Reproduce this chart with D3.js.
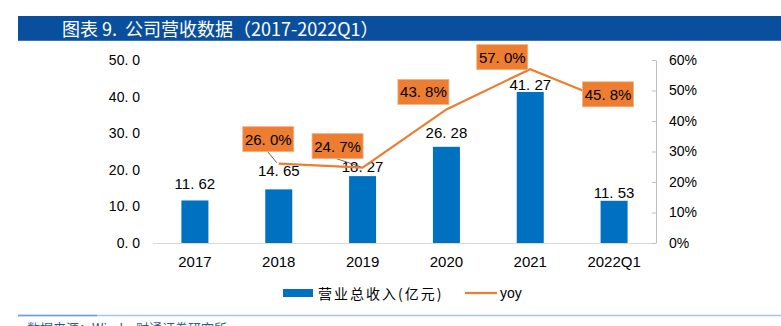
<!DOCTYPE html>
<html><head><meta charset="utf-8">
<script src="https://cdn.jsdelivr.net/npm/d3@7"></script>
<style>
html,body{margin:0;padding:0;background:#fff;overflow:hidden;}
svg{display:block;}
</style></head>
<body>
<svg id="chart" width="781" height="326"></svg>
<script>
// ---- data ----
const categories = ["2017", "2018", "2019", "2020", "2021", "2022Q1"];
const revenue = [11.62, 14.65, 18.27, 26.28, 41.27, 11.53];   // 营业总收入(亿元)
const yoy = [null, 0.260, 0.247, 0.438, 0.570, 0.458];
const leftTicks = [0, 10, 20, 30, 40, 50];
const rightTicks = [0, 0.1, 0.2, 0.3, 0.4, 0.5, 0.6];
const titleText = "图表 9.\u00a0\u00a0公司营收数据（2017-2022Q1）";
const legendLabels = ["营业总收入(亿元)", "yoy"];
const sourceText = "数据来源：Wind，财通证券研究所";

// ---- layout (not data) ----
const barLabelGap = [11, 13, 4, 9, 2, 3];
const yoyLabelOffset = [null, [-10.5, -24.5], [-25, -21.5], [-23, -17.5], [-28, -12], [-6, -9]];
const yoyLeader = [false, true, true, false, false, false];

const svg = d3.select("#chart");
const blue = "#0070c0", orange = "#ed7d31";
const numFont = "'Liberation Sans', Arial, sans-serif";
const cjkFont = "'Noto Sans CJK SC', 'Noto Sans', sans-serif";

// title bar
svg.append("rect").attr("x", 18).attr("y", 16).attr("width", 763).attr("height", 25).attr("fill", "#0a4f9e");
svg.append("line").attr("x1", 18).attr("x2", 781).attr("y1", 40.5).attr("y2", 40.5).attr("stroke", "#3f74b8").attr("stroke-width", 1);
svg.append("text").attr("x", 62).attr("y", 35.5).attr("fill", "#fff")
  .attr("font-family", cjkFont).attr("font-size", 18).text(titleText);

// scales
const x = d3.scaleBand().domain(categories).range([153, 656]).padding(0);
const yL = d3.scaleLinear().domain([0, 50]).range([243, 60]);
const yR = d3.scaleLinear().domain([0, 0.6]).range([243, 60]);
const barW = 27;

// baseline
svg.append("line").attr("x1", 153).attr("x2", 656).attr("y1", 243.5).attr("y2", 243.5)
  .attr("stroke", "#d9d9d9").attr("stroke-width", 1);

// left axis
const gL = svg.append("g").attr("transform", "translate(153,0)")
  .call(d3.axisLeft(yL).tickValues(leftTicks).tickSize(0).tickPadding(13)
    .tickFormat(d => d3.format(".1f")(d).replace(".", ". ")));
gL.select(".domain").remove();
gL.selectAll("text").attr("font-family", numFont).attr("font-size", 14).attr("fill", "#000");

// right axis
const gR = svg.append("g").attr("transform", "translate(656,0)")
  .call(d3.axisRight(yR).tickValues(rightTicks).tickSizeInner(-4).tickSizeOuter(0).tickPadding(13)
    .tickFormat(d3.format(".0%")));
gR.select(".domain").attr("stroke", "#bfbfbf");
gR.selectAll(".tick line").attr("stroke", "#bfbfbf");
gR.selectAll("text").attr("font-family", numFont).attr("font-size", 14).attr("fill", "#000");

// x labels
svg.append("g").selectAll("text").data(categories).join("text")
  .attr("x", d => x(d) + x.bandwidth() / 2).attr("y", 267)
  .attr("text-anchor", "middle").attr("font-family", numFont).attr("font-size", 15).attr("fill", "#000")
  .text(d => d);

// bars
svg.append("g").selectAll("rect").data(revenue).join("rect")
  .attr("x", (d, i) => x(categories[i]) + x.bandwidth() / 2 - barW / 2)
  .attr("y", d => yL(d)).attr("width", barW).attr("height", d => yL(0) - yL(d))
  .attr("fill", blue);

// bar labels
svg.append("g").selectAll("text").data(revenue).join("text")
  .attr("x", (d, i) => x(categories[i]) + x.bandwidth() / 2)
  .attr("y", (d, i) => yL(d) - barLabelGap[i])
  .attr("text-anchor", "middle").attr("font-family", numFont).attr("font-size", 15).attr("fill", "#000")
  .text(d => d3.format(".2f")(d).replace(".", ". "));

// yoy line
const pts = yoy.map((v, i) => ({v, i, c: categories[i]})).filter(p => p.v != null);
const px = p => x(p.c) + x.bandwidth() / 2;
svg.append("path").datum(pts)
  .attr("d", d3.line().x(px).y(p => yR(p.v)))
  .attr("fill", "none").attr("stroke", orange).attr("stroke-width", 2.25);

// yoy labels
const boxW = 51, boxH = 25;
const lg = svg.append("g");
pts.forEach(p => {
  const [dx, dy] = yoyLabelOffset[p.i];
  const cx = px(p) + dx, cy = yR(p.v) + dy;
  if (yoyLeader[p.i]) {
    lg.append("line").attr("x1", cx + dx * 0.05).attr("y1", cy + boxH / 2)
      .attr("x2", px(p) - 2).attr("y2", yR(p.v) - 1)
      .attr("stroke", "#404040").attr("stroke-width", 0.8);
  }
  lg.append("rect").attr("x", cx - boxW / 2).attr("y", cy - boxH / 2).attr("width", boxW).attr("height", boxH)
    .attr("fill", orange).attr("stroke", "#f4b183").attr("stroke-width", 0.8);
  lg.append("text").attr("x", cx).attr("y", cy + 5.5).attr("text-anchor", "middle")
    .attr("font-family", numFont).attr("font-size", 15).attr("fill", "#000")
    .text(d3.format(".1f")(p.v * 100).replace(".", ". ") + "%");
});

// legend
svg.append("rect").attr("x", 283).attr("y", 289).attr("width", 30).attr("height", 8).attr("fill", blue);
svg.append("text").attr("x", 318).attr("y", 298.5).attr("font-family", cjkFont).attr("font-size", 14)
  .attr("letter-spacing", 2).attr("fill", "#000").text(legendLabels[0]);
svg.append("line").attr("x1", 465).attr("x2", 497).attr("y1", 293).attr("y2", 293)
  .attr("stroke", orange).attr("stroke-width", 2.25);
svg.append("text").attr("x", 500).attr("y", 298).attr("font-family", numFont).attr("font-size", 14)
  .attr("fill", "#000").text(legendLabels[1]);

// bottom separator + source
svg.append("line").attr("x1", 18).attr("x2", 781).attr("y1", 315.5).attr("y2", 315.5)
  .attr("stroke", "#a9c4e4").attr("stroke-width", 1.5);
svg.append("line").attr("x1", 18).attr("x2", 97).attr("y1", 315.5).attr("y2", 315.5)
  .attr("stroke", "#6f9fd8").attr("stroke-width", 1.5);
svg.append("text").attr("x", 27).attr("y", 333).attr("font-family", cjkFont).attr("font-size", 13)
  .attr("fill", "#1f5fa8").text(sourceText);
</script>
</body></html>
